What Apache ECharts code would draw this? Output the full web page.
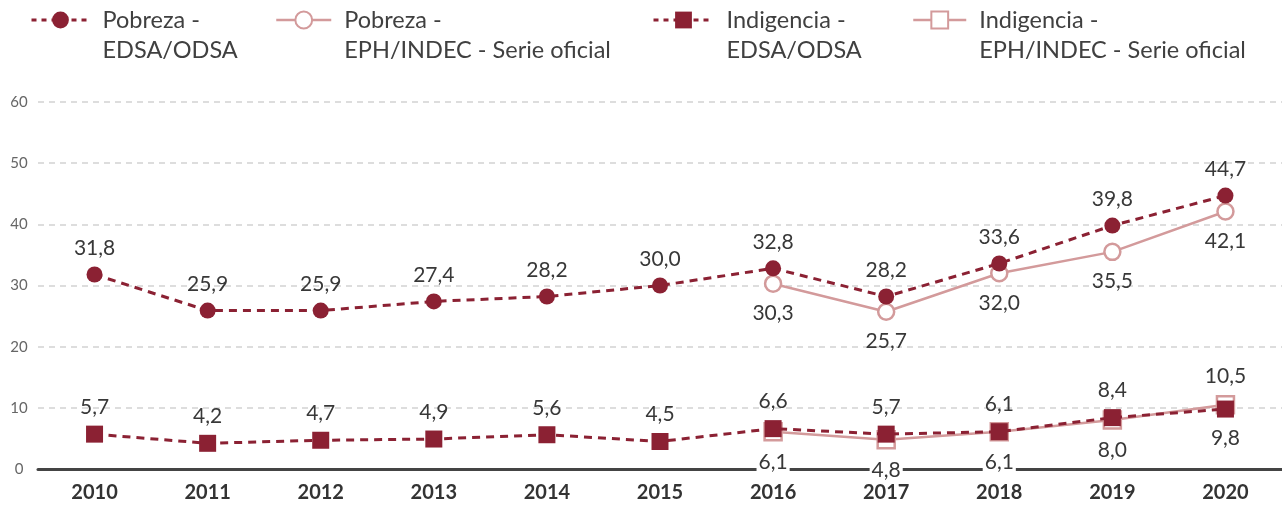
<!DOCTYPE html>
<html>
<head>
<meta charset="utf-8">
<script src="https://cdn.jsdelivr.net/npm/echarts@6/dist/echarts.min.js"></script>
<style>
  html, body { margin: 0; padding: 0; background: #fff; }
  #chart { width: 1282px; height: 505px; }
</style>
</head>
<body>
<div id="chart"></div>
<script>
// datos
const years = ['2010', '2011', '2012', '2013', '2014', '2015', '2016', '2017', '2018', '2019', '2020'];
const pobrezaEdsa = [31.8, 25.9, 25.9, 27.4, 28.2, 30.0, 32.8, 28.2, 33.6, 39.8, 44.7];
const pobrezaEph = [null, null, null, null, null, null, 30.3, 25.7, 32.0, 35.5, 42.1];
const indigenciaEdsa = [5.7, 4.2, 4.7, 4.9, 5.6, 4.5, 6.6, 5.7, 6.1, 8.4, 9.8];
const indigenciaEph = [null, null, null, null, null, null, 6.1, 4.8, 6.1, 8.0, 10.5];
const yTicks = [0, 10, 20, 30, 40, 50, 60];

const DARK = '#8b2133';
const LIGHT = '#d39a9b';
const FONT = 'Lato';

const fmt = v => v == null ? '' : v.toFixed(1).replace('.', ',');

// label arriba o abajo segun cual serie es mayor (empate: la serie principal arriba)
function withPos(vals, other, main) {
  return vals.map((v, i) => {
    if (v == null) return null;
    let up = main;
    if (other[i] != null) up = main ? v >= other[i] : v > other[i];
    return { value: v, label: { position: up ? 'top' : 'bottom', distance: up ? 8 : 10 } };
  });
}

const labelCommon = {
  show: true,
  fontFamily: FONT,
  fontSize: 21,
  color: '#383838',
  formatter: p => fmt(p.value)
};

function legend(name, left, width, dashed) {
  return {
    data: [name],
    left: left,
    top: -25,
    padding: 0,
    itemWidth: width,
    itemHeight: 21,
    selectedMode: false,
    formatter: n => ' \n' + n,
    lineStyle: { type: dashed ? [5, 5] : 'solid', width: dashed ? 3 : 2.5 },
    textStyle: {
      fontFamily: FONT,
      fontSize: 23.5,
      color: '#404040',
      lineHeight: 30,
      padding: [0, 0, 0, 8]
    }
  };
}

const n1 = 'Pobreza -\nEDSA/ODSA';
const n2 = 'Pobreza -\nEPH/INDEC - Serie oficial';
const n3 = 'Indigencia -\nEDSA/ODSA';
const n4 = 'Indigencia -\nEPH/INDEC - Serie oficial';

const chart = echarts.init(document.getElementById('chart'));
chart.setOption({
  animation: false,
  legend: [
    legend(n1, 30, 58, true),
    legend(n2, 275, 55, false),
    legend(n3, 652, 60, true),
    legend(n4, 912, 53, false)
  ],
  grid: { left: 38, top: 102, width: 1249, bottom: 36 },
  xAxis: {
    type: 'category',
    data: years,
    boundaryGap: true,
    axisLine: { show: true, lineStyle: { color: '#444', width: 3 } },
    axisTick: { show: false },
    axisLabel: { fontFamily: FONT, fontSize: 20, fontWeight: 'bold', color: '#333', margin: 14 }
  },
  yAxis: {
    type: 'value',
    min: yTicks[0],
    max: yTicks[yTicks.length - 1],
    interval: 10,
    axisLine: { show: false },
    axisTick: { show: false },
    axisLabel: { fontFamily: FONT, fontSize: 15, color: '#666', align: 'center', margin: 19 },
    splitLine: { lineStyle: { color: '#d2d2d2', width: 1.5, type: [6, 5] } }
  },
  series: [
    {
      name: n2,
      type: 'line',
      data: withPos(pobrezaEph, pobrezaEdsa, false),
      symbol: 'circle',
      symbolSize: 16,
      z: 2,
      lineStyle: { color: LIGHT, width: 2.5 },
      itemStyle: { color: '#fff', borderColor: LIGHT, borderWidth: 2.5 },
      label: labelCommon
    },
    {
      name: n1,
      type: 'line',
      data: withPos(pobrezaEdsa, pobrezaEph, true),
      symbol: 'circle',
      symbolSize: 16,
      z: 3,
      lineStyle: { color: DARK, width: 3, type: [8, 6] },
      itemStyle: { color: DARK },
      label: labelCommon
    },
    {
      name: n4,
      type: 'line',
      data: withPos(indigenciaEph, indigenciaEdsa, false),
      symbol: 'rect',
      symbolSize: 17,
      z: 2,
      lineStyle: { color: LIGHT, width: 2.5 },
      itemStyle: { color: '#fff', borderColor: LIGHT, borderWidth: 2.5 },
      label: Object.assign({}, labelCommon, { backgroundColor: '#fff', padding: [0, 2] })
    },
    {
      name: n3,
      type: 'line',
      data: withPos(indigenciaEdsa, indigenciaEph, true),
      symbol: 'rect',
      symbolSize: 17,
      z: 3,
      lineStyle: { color: DARK, width: 3, type: [8, 6] },
      itemStyle: { color: DARK },
      label: labelCommon
    }
  ]
});
</script>
</body>
</html>
